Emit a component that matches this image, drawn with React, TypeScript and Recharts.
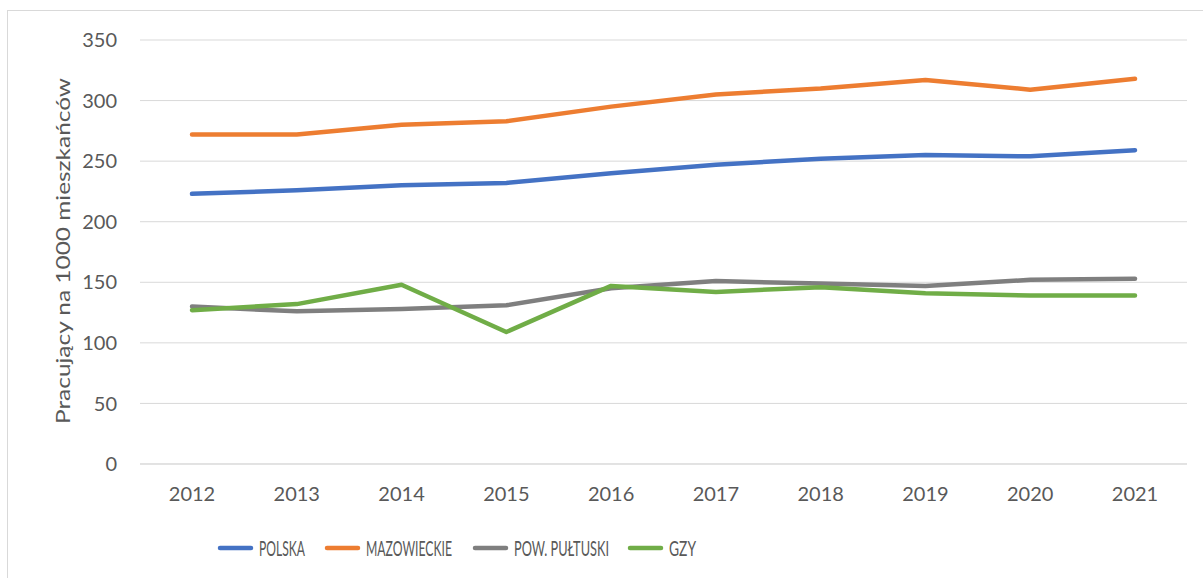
import React from 'react';
import { LineChart, Line, XAxis, YAxis, CartesianGrid, Legend } from 'recharts';

const years = ['2012', '2013', '2014', '2015', '2016', '2017', '2018', '2019', '2020', '2021'];
const polska = [223, 226, 230, 232, 240, 247, 252, 255, 254, 259];
const mazowieckie = [272, 272, 280, 283, 295, 305, 310, 317, 309, 318];
const powPultuski = [130, 126, 128, 131, 145, 151, 149, 147, 152, 153];
const gzy = [127, 132, 148, 109, 147, 142, 146, 141, 139, 139];
const yTicks = [0, 50, 100, 150, 200, 250, 300, 350];
const yLabel = 'Pracujący na 1000 mieszkańców';

const seriesNames = ['POLSKA', 'MAZOWIECKIE', 'POW. PUŁTUSKI', 'GZY'];
const seriesKeys = ['polska', 'mazowieckie', 'pow', 'gzy'];
const seriesColors = ['#4472C4', '#ED7D31', '#7F7F7F', '#70AD47'];

const data = years.map((y, i) => ({
  year: y,
  polska: polska[i],
  mazowieckie: mazowieckie[i],
  pow: powPultuski[i],
  gzy: gzy[i],
}));

// legend layout (style only)
const legendX = [218, 325, 473, 628];
const legendTextW = [46, 86, 95, 27];
const FONT = 'Lato, "Open Sans", sans-serif';
const TEXT = '#595959';

const LegendContent = () => (
  <svg width={1187} height={64} style={{ display: 'block' }}>
    {seriesNames.map((n, i) => (
      <g key={n}>
        <line x1={legendX[i] + 2} x2={legendX[i] + 33} y1={34} y2={34} stroke={seriesColors[i]} strokeWidth={4.5} strokeLinecap="round" />
        <text x={legendX[i] + 41} y={42} fontFamily={FONT} fontSize={20.5} fill={TEXT} textLength={legendTextW[i]} lengthAdjust="spacingAndGlyphs">{n}</text>
      </g>
    ))}
  </svg>
);

const YLabel = (props: any) => {
  const vb = props.viewBox || { x: 0, y: 40, width: 140, height: 424 };
  const cx = vb.x + 62;
  const cy = vb.y + vb.height / 2 - 1;
  return (
    <text x={cx} y={cy} transform={`rotate(-90 ${cx} ${cy})`} textAnchor="middle" dominantBaseline="central" fontFamily={FONT} fontSize={20} fill={TEXT} textLength={346} lengthAdjust="spacingAndGlyphs">
      {yLabel}
    </text>
  );
};

export default function App() {
  return (
    <div style={{ position: 'absolute', left: 0, top: 0, width: 1203, height: 578, overflow: 'hidden', background: '#fff' }}>
      <div style={{ position: 'absolute', left: 7, top: 10, width: 1230, height: 620, border: '1px solid #d9d9d9', boxSizing: 'border-box' }} />
      <div style={{ position: 'absolute', left: 0, top: 0 }}>
        <LineChart width={1203} height={578} data={data} margin={{ top: 40, right: 16, left: 0, bottom: 0 }}>
          <CartesianGrid vertical={false} stroke="#d9d9d9" strokeWidth={1} />
          <XAxis
            dataKey="year"
            padding={{ left: 52, right: 52 }}
            height={50}
            tickLine={false}
            tickSize={0}
            tickMargin={23}
            axisLine={{ stroke: '#d9d9d9' }}
            tick={{ fontFamily: FONT, fontSize: 20, fill: TEXT }}
            interval={0}
          />
          <YAxis
            width={140}
            domain={[0, 350]}
            ticks={yTicks}
            axisLine={false}
            tickLine={false}
            tickSize={0}
            tickMargin={23}
            tick={{ fontFamily: FONT, fontSize: 20, fill: TEXT }}
            label={<YLabel />}
          />
          <Legend verticalAlign="bottom" height={64} content={<LegendContent />} />
          {seriesKeys.map((k, i) => (
            <Line key={k} type="linear" dataKey={k} name={seriesNames[i]} stroke={seriesColors[i]} strokeWidth={4.5} strokeLinecap="round" strokeLinejoin="round" dot={false} activeDot={false} isAnimationActive={false} />
          ))}
        </LineChart>
      </div>
    </div>
  );
}
